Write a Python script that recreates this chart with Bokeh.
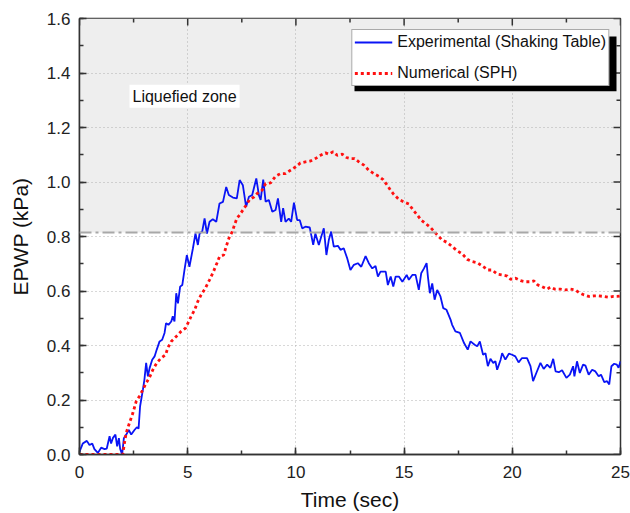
from bokeh.plotting import figure
from bokeh.models import (Range1d, SingleIntervalTicker, PrintfTickFormatter,
                          BoxAnnotation, Span, Label, Legend, LegendItem)
from bokeh.embed import file_html
from bokeh.resources import INLINE

# Experimental (Shaking Table)
exp_t = [0.0, 0.15, 0.34, 0.46, 0.59, 0.69, 0.85, 1.0, 1.16, 1.26, 1.39, 1.46, 1.54, 1.66, 1.74,
         1.82, 1.88, 1.97, 2.05, 2.16, 2.28, 2.39, 2.54, 2.65, 2.73, 2.80, 2.93, 3.00, 3.08, 3.16,
         3.24, 3.36, 3.47, 3.57, 3.70, 3.82, 3.93, 4.0, 4.11, 4.24, 4.31, 4.39, 4.47, 4.55, 4.65,
         4.75, 4.85, 4.96, 5.08, 5.24, 5.36, 5.47, 5.55, 5.67, 5.78, 5.89, 6.01, 6.16, 6.32, 6.47,
         6.63, 6.78, 6.90, 7.09, 7.27, 7.40, 7.55, 7.70, 7.83, 7.98, 8.17,
         8.29, 8.37, 8.49, 8.60, 8.75, 8.91, 9.06, 9.17, 9.32, 9.41, 9.52, 9.67, 9.78, 9.91, 10.06,
         10.18, 10.29, 10.44, 10.64, 10.80, 10.90, 11.06, 11.17, 11.29, 11.41, 11.52, 11.63, 11.75,
         11.94, 12.06, 12.21, 12.37, 12.52, 12.68, 12.86, 13.02, 13.22, 13.37, 13.53, 13.68, 13.79,
         13.91, 14.15, 14.25, 14.38, 14.50, 14.61, 14.76, 14.92, 15.12, 15.22, 15.38, 15.53, 15.68,
         15.79, 15.92, 16.04, 16.10, 16.19, 16.30, 16.41, 16.53, 16.68, 16.81, 16.96, 17.15,
         17.22, 17.37, 17.58, 17.77, 17.94, 18.07, 18.26, 18.38, 18.50, 18.65, 18.76, 18.87, 18.99,
         19.12, 19.22, 19.30, 19.46, 19.53, 19.68, 19.84, 19.99, 20.14, 20.29, 20.45, 20.68, 20.84,
         20.96, 21.11, 21.30, 21.45, 21.61, 21.76, 21.89, 22.00, 22.15, 22.30, 22.50, 22.66, 22.81,
         22.87, 22.99, 23.12, 23.27, 23.38, 23.53, 23.69, 23.84, 23.99, 24.10, 24.25, 24.38, 24.48,
         24.58, 24.71, 24.83, 24.91, 25.0]
exp_v = [0.01, 0.04, 0.05, 0.035, 0.04, 0.02, 0.006, 0.025, 0.02, 0.022, 0.067, 0.04, 0.06, 0.073, 0.03,
         0.06, 0.02, 0.0, 0.06, 0.073, 0.09, 0.073, 0.09, 0.10, 0.095, 0.177, 0.238, 0.275, 0.336, 0.287,
         0.317, 0.348, 0.36, 0.385, 0.415, 0.421, 0.446, 0.482, 0.476, 0.488, 0.507, 0.488, 0.592, 0.555, 0.616,
         0.622, 0.677, 0.732, 0.689, 0.756, 0.811, 0.769, 0.811, 0.818, 0.866, 0.811, 0.854, 0.863, 0.854, 0.921,
         0.927, 0.982, 0.952, 0.943, 0.940, 1.007, 0.988, 0.909, 0.946, 0.952, 1.013,
         0.952, 0.934, 1.009, 0.928, 0.934, 0.891, 0.897, 0.940, 0.854, 0.904, 0.854, 0.866, 0.854, 0.924, 0.860,
         0.860, 0.830, 0.836, 0.833, 0.769, 0.811, 0.769, 0.799, 0.830, 0.732, 0.787, 0.818, 0.763,
         0.766, 0.751, 0.757, 0.720, 0.677, 0.696, 0.702, 0.689, 0.728, 0.702, 0.683, 0.692, 0.653,
         0.671, 0.671, 0.622, 0.653, 0.616, 0.653, 0.653, 0.634, 0.659, 0.641, 0.659, 0.659, 0.604,
         0.665, 0.683, 0.702, 0.653, 0.592, 0.628, 0.568, 0.604, 0.580, 0.537, 0.531, 0.494,
         0.476, 0.452, 0.446, 0.409, 0.385, 0.415, 0.403, 0.397, 0.415, 0.366, 0.372, 0.324, 0.351,
         0.336, 0.342, 0.311, 0.348, 0.372, 0.348, 0.370, 0.366, 0.360, 0.338, 0.354, 0.354, 0.324,
         0.269, 0.299, 0.336, 0.314, 0.330, 0.318, 0.351, 0.305, 0.302, 0.309, 0.281, 0.293, 0.324,
         0.287, 0.342, 0.299, 0.330, 0.326, 0.293, 0.311, 0.305, 0.287, 0.293, 0.266, 0.269, 0.257,
         0.324, 0.333, 0.330, 0.318, 0.342]

# Numerical (SPH)
num_t = [0.0, 2.0, 2.08, 2.16, 2.31, 2.47, 2.62, 2.77, 2.93, 3.08, 3.24, 3.39, 3.57, 3.77, 3.98, 4.08,
         4.24, 4.47, 4.70, 4.90, 5.01, 5.16, 5.32, 5.47, 5.62, 5.82, 6.01, 6.19, 6.35, 6.47, 6.66,
         6.78, 6.90, 7.06, 7.16, 7.27, 7.40, 7.55, 7.70, 7.86,
         8.06, 8.21, 8.44, 8.60, 8.83, 9.06, 9.29, 9.52, 9.75, 9.98, 10.21, 10.44, 10.67, 10.90, 11.14,
         11.37, 11.52, 11.72, 11.91, 12.14, 12.34, 12.52, 12.71, 12.91, 13.14, 13.37, 13.60, 13.83,
         14.03, 14.22, 14.37, 14.52, 14.76, 14.99, 15.22, 15.42, 15.61, 15.79, 15.99, 16.22,
         16.30, 16.53, 16.76, 16.99, 17.22, 17.45, 17.69, 17.92, 18.15, 18.38, 18.61, 18.87, 19.07,
         19.30, 19.53, 19.77, 19.92, 20.15, 20.38, 20.61, 20.84, 21.0, 21.18, 21.38, 21.61, 21.76,
         21.95, 22.22, 22.45, 22.68, 22.91, 23.07, 23.30, 23.53, 23.76, 23.99, 24.22, 24.45, 24.68,
         24.83, 25.0]
num_v = [0.0, 0.0, 0.043, 0.08, 0.116, 0.153, 0.195, 0.214, 0.238, 0.262, 0.284, 0.311, 0.336, 0.354, 0.366, 0.391,
         0.415, 0.433, 0.452, 0.464, 0.482, 0.507, 0.531, 0.562, 0.586, 0.611, 0.641, 0.671, 0.702, 0.726, 0.732,
         0.763, 0.793, 0.818, 0.842, 0.866, 0.879, 0.897, 0.915, 0.935,
         0.945, 0.958, 0.970, 0.994, 0.997, 1.021, 1.031, 1.031, 1.043, 1.055, 1.070, 1.074, 1.077, 1.086, 1.098,
         1.107, 1.102, 1.111, 1.098, 1.102, 1.090, 1.086, 1.086, 1.074, 1.062, 1.043, 1.031, 1.021,
         1.009, 0.988, 0.970, 0.955, 0.936, 0.927, 0.919, 0.897, 0.879, 0.860, 0.848, 0.833,
         0.826, 0.806, 0.787, 0.778, 0.763, 0.748, 0.736, 0.716, 0.708, 0.704, 0.692, 0.677, 0.677,
         0.662, 0.659, 0.655, 0.643, 0.647, 0.638, 0.634, 0.634, 0.637, 0.622, 0.616, 0.607, 0.614,
         0.607, 0.607, 0.604, 0.607, 0.604, 0.595, 0.586, 0.580, 0.582, 0.582, 0.580, 0.577, 0.580,
         0.580, 0.582]

liquefaction_level = 0.815
x_major_ticks = [0, 5, 10, 15, 20, 25]
x_minor_ticks = [2.5, 7.5, 12.5, 17.5, 22.5]
y_major_ticks = [0.0, 0.2, 0.4, 0.6, 0.8, 1.0, 1.2, 1.4, 1.6]
y_minor_ticks = [0.1, 0.3, 0.5, 0.7, 0.9, 1.1, 1.3, 1.5]

X_MAX, Y_MAX = 25, 1.6
W, H = 630, 513
BL, BR, BT, BB = 79, 10, 18, 58
FW, FH = W - BL - BR, H - BT - BB
PPX, PPY = FW / X_MAX, FH / Y_MAX

FONT = "Liberation Sans"
AX = "#333333"

p = figure(width=W, height=H, output_backend="svg", toolbar_location=None,
           x_range=Range1d(0, X_MAX), y_range=Range1d(0, Y_MAX),
           min_border_left=BL, min_border_right=BR, min_border_top=BT, min_border_bottom=BB,
           x_axis_label="Time (sec)", y_axis_label="EPWP (kPa)")
p.background_fill_color = "white"
p.border_fill_color = "white"
p.outline_line_color = AX
p.outline_line_width = 1.5

xt = SingleIntervalTicker(interval=5, num_minor_ticks=2)
yt = SingleIntervalTicker(interval=0.2, num_minor_ticks=2)
p.xaxis.ticker = xt
p.yaxis.ticker = yt
p.yaxis.formatter = PrintfTickFormatter(format="%.1f")
for ax in (p.xaxis[0], p.yaxis[0]):
    ax.axis_line_color = AX
    ax.axis_line_width = 1.5
    ax.major_tick_line_color = AX
    ax.major_tick_line_width = 1.5
    ax.minor_tick_line_color = AX
    ax.minor_tick_line_width = 1.5
    ax.major_tick_in = 7
    ax.major_tick_out = 0
    ax.minor_tick_in = 4
    ax.minor_tick_out = 0
    ax.major_label_text_font = FONT
    ax.major_label_text_font_size = "17px"
    ax.major_label_text_color = "#222222"
    ax.axis_label_text_font = FONT
    ax.axis_label_text_font_size = "21px"
    ax.axis_label_text_font_style = "normal"
    ax.axis_label_text_color = "#111111"
p.xaxis.major_label_standoff = 11
p.yaxis.major_label_standoff = 9
p.xaxis.axis_label_standoff = 7
p.yaxis.axis_label_standoff = 12

p.xgrid.ticker = xt
p.ygrid.ticker = yt
for g in (p.xgrid[0], p.ygrid[0]):
    g.grid_line_color = "#b0b0b0"
    g.grid_line_dash = "1 3"
    g.grid_line_width = 1

zone = BoxAnnotation(bottom=liquefaction_level, top=Y_MAX, fill_color="#eeeeee", fill_alpha=1.0,
                     line_alpha=0, level="image")
p.add_layout(zone)
p.add_layout(Span(location=liquefaction_level, dimension="width", line_color="#a8a8a8",
                  line_width=2, line_dash="12 4 3 4"))

# mirrored inward ticks on the top and right frame edges
def mirror_ticks(vals, length_px, horizontal):
    if horizontal:
        p.segment(x0=vals, x1=vals, y0=[Y_MAX] * len(vals),
                  y1=[Y_MAX - length_px / PPY] * len(vals), line_color=AX, line_width=1.5)
    else:
        p.segment(x0=[X_MAX] * len(vals), x1=[X_MAX - length_px / PPX] * len(vals),
                  y0=vals, y1=vals, line_color=AX, line_width=1.5)

mirror_ticks(x_major_ticks, 7, True)
mirror_ticks(x_minor_ticks, 4, True)
mirror_ticks(y_major_ticks, 7, False)
mirror_ticks(y_minor_ticks, 4, False)

# legend shadow (placed under the legend box)
shadow = BoxAnnotation(left=(354 - BL) / PPX, right=(616 - BL) / PPX,
                       top=(H - BB - 36) / PPY, bottom=(H - BB - 91) / PPY,
                       fill_color="black", fill_alpha=1.0, line_alpha=0, level="guide")
p.add_layout(shadow)

r_exp = p.line(exp_t, exp_v, line_color="#0a14f5", line_width=1.8)
r_num = p.line(num_t, num_v, line_color="#ff1010", line_width=2.8, line_dash="3 3")

p.add_layout(Label(x=(129 - BL) / PPX, y=(H - BB - 96) / PPY, text="Liquefied zone",
                   text_font=FONT, text_font_size="16px",
                   text_baseline="middle", text_color="#111111",
                   background_fill_color="white", background_fill_alpha=1.0, padding=3))

legend = Legend(items=[LegendItem(label="Experimental (Shaking Table)", renderers=[r_exp]),
                       LegendItem(label="Numerical (SPH)", renderers=[r_num])],
                location="top_right", margin=11, padding=2, spacing=11,
                glyph_width=38, glyph_height=20, label_height=20, label_standoff=5,
                label_text_font=FONT, label_text_font_size="16px", label_text_color="#111111",
                border_line_color="#555555", border_line_width=1.2,
                background_fill_color="white", background_fill_alpha=1.0)
p.add_layout(legend)

open("out.html", "w").write(file_html(p, INLINE))
